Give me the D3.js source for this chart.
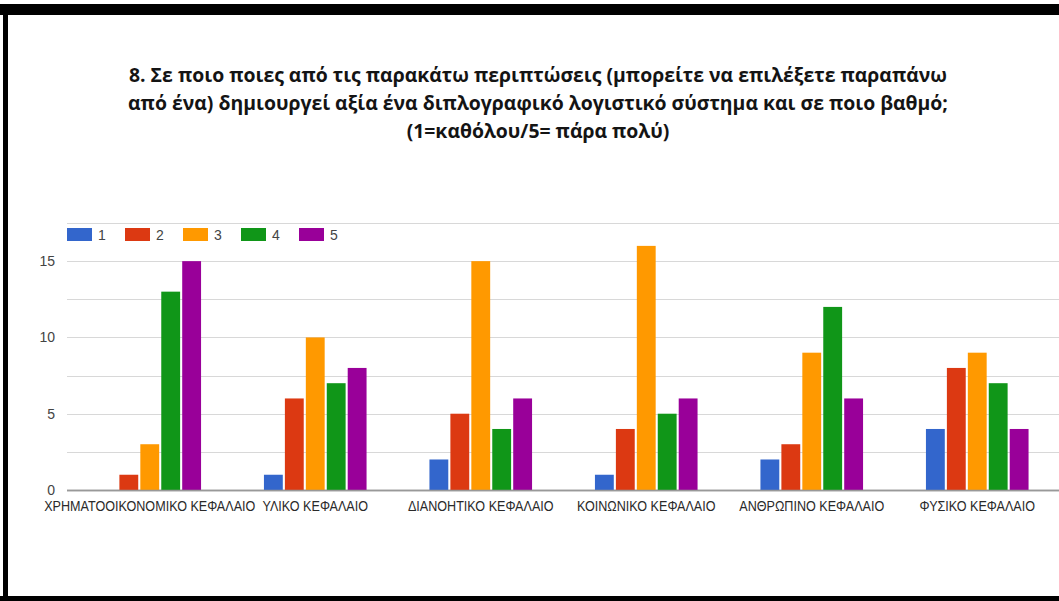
<!DOCTYPE html>
<html>
<head>
<meta charset="utf-8">
<script src="https://cdn.jsdelivr.net/npm/d3@7"></script>
<style>
  html, body { margin: 0; padding: 0; background: #fff; }
  svg { display: block; }
  .title { font-family: 'Open Sans', 'Noto Sans', sans-serif; font-weight: bold;
    font-size: 19.4px; fill: #141414; }
  .axis text, .legend text { font-family: 'Liberation Sans', Arial, sans-serif;
    font-size: 14px; }
</style>
</head>
<body>
<svg id="chart" width="1059" height="601"></svg>
<script>
/**
 * Chart data.
 */
var titleLines = [
  '8. Σε ποιο ποιες από τις παρακάτω περιπτώσεις (μπορείτε να επιλέξετε παραπάνω',
  'από ένα) δημιουργεί αξία ένα διπλογραφικό λογιστικό σύστημα και σε ποιο βαθμό;',
  '(1=καθόλου/5= πάρα πολύ)'
];
var categories = [
  'ΧΡΗΜΑΤΟΟΙΚΟΝΟΜΙΚΟ ΚΕΦΑΛΑΙΟ',
  'ΥΛΙΚΟ ΚΕΦΑΛΑΙΟ',
  'ΔΙΑΝΟΗΤΙΚΟ ΚΕΦΑΛΑΙΟ',
  'ΚΟΙΝΩΝΙΚΟ ΚΕΦΑΛΑΙΟ',
  'ΑΝΘΡΩΠΙΝΟ ΚΕΦΑΛΑΙΟ',
  'ΦΥΣΙΚΟ ΚΕΦΑΛΑΙΟ'
];
var seriesNames = ['1', '2', '3', '4', '5'];
var seriesColors = ['#3366cc', '#dc3912', '#ff9900', '#109618', '#990099'];
// values per series, one entry per category
var values1 = [0, 1, 2, 1, 2, 4];
var values2 = [1, 6, 5, 4, 3, 8];
var values3 = [3, 10, 15, 16, 9, 9];
var values4 = [13, 7, 4, 5, 12, 7];
var values5 = [15, 8, 6, 6, 6, 4];
var seriesValues = [values1, values2, values3, values4, values5];
var yLabelTicks = [0, 5, 10, 15];
var yGridTicks = [0, 2.5, 5, 7.5, 10, 12.5, 15, 17.5];
var yMax = 17.5;

var svg = d3.select('#chart');

// Black frame round the picture (top, left, bottom).
svg.append('rect').attr('x', 0).attr('y', 4).attr('width', 1059)
  .attr('height', 11).attr('fill', '#000');
svg.append('rect').attr('x', 3).attr('y', 4).attr('width', 5)
  .attr('height', 597).attr('fill', '#000');
svg.append('rect').attr('x', 0).attr('y', 596).attr('width', 1059)
  .attr('height', 5).attr('fill', '#000');

// Title, centered.
var title = svg.append('text')
  .classed('title', true)
  .attr('text-anchor', 'middle');
title.selectAll('tspan')
  .data(titleLines)
  .enter().append('tspan')
  .attr('x', 538)
  .attr('y', function(d, i) { return 82 + i * 28; })
  .text(function(d) { return d; });

var plotLeft = 67;
var plotRight = 1060;
var plotTop = 223;
var plotBottom = 490;

var x = d3.scaleBand()
  .domain(categories)
  .range([plotLeft, plotRight]);
var xInner = d3.scaleBand()
  .domain(seriesNames)
  .range([x.bandwidth() * 0.19, x.bandwidth() * 0.81])
  .paddingInner(0.1);
var y = d3.scaleLinear()
  .domain([0, yMax])
  .range([plotBottom, plotTop]);

// Gridlines.
svg.append('g')
  .selectAll('line')
  .data(yGridTicks)
  .enter().append('line')
  .attr('x1', plotLeft)
  .attr('x2', 1059)
  .attr('y1', function(d) { return Math.round(y(d)) + 0.5; })
  .attr('y2', function(d) { return Math.round(y(d)) + 0.5; })
  .attr('stroke', function(d) { return d == 0 ? '#999' : '#d8d8d8'; })
  .attr('stroke-width', function(d) { return d == 0 ? 1.5 : 1.2; });

// Bars.
var groups = svg.append('g')
  .selectAll('g')
  .data(categories)
  .enter().append('g')
  .attr('transform', function(d) { return 'translate(' + x(d) + ',0)'; });
groups.selectAll('rect')
  .data(function(d, ci) {
    return seriesNames.map(function(s, si) {
      return {series: s, color: seriesColors[si], value: seriesValues[si][ci]};
    });
  })
  .enter().append('rect')
  .attr('x', function(d) { return xInner(d.series); })
  .attr('width', xInner.bandwidth())
  .attr('y', function(d) { return y(d.value); })
  .attr('height', function(d) { return y(0) - y(d.value); })
  .attr('fill', function(d) { return d.color; });

// Re-draw baseline on top of bars.
svg.append('line')
  .attr('x1', plotLeft).attr('x2', 1059)
  .attr('y1', Math.round(y(0)) + 0.5).attr('y2', Math.round(y(0)) + 0.5)
  .attr('stroke', '#999').attr('stroke-width', 1.5);

// Y axis labels.
var yAxis = svg.append('g')
  .classed('axis', true)
  .attr('transform', 'translate(' + (plotLeft - 12) + ',0)')
  .call(d3.axisLeft(y).tickValues(yLabelTicks).tickSize(0)
    .tickFormat(d3.format('d')));
yAxis.select('.domain').remove();
yAxis.selectAll('text')
  .attr('fill', '#444')
  .attr('x', 0)
  .attr('dy', '0.32em');

// X axis labels, slightly condensed like the original.
var xAxis = svg.append('g')
  .classed('axis', true)
  .attr('transform', 'translate(0,' + (plotBottom + 8) + ')')
  .call(d3.axisBottom(x).tickSize(0));
xAxis.select('.domain').remove();
xAxis.selectAll('text')
  .attr('fill', '#2a2a2a')
  .attr('transform', 'scale(0.9,1)');

// Legend.
var legend = svg.append('g')
  .classed('legend', true)
  .attr('transform', 'translate(67,228)');
var legendItems = legend.selectAll('g')
  .data(seriesNames)
  .enter().append('g')
  .attr('transform', function(d, i) { return 'translate(' + i * 58 + ',0)'; });
legendItems.append('rect')
  .attr('width', 25)
  .attr('height', 13)
  .attr('fill', function(d, i) { return seriesColors[i]; });
legendItems.append('text')
  .attr('x', 31)
  .attr('y', 12)
  .attr('fill', '#444')
  .text(function(d) { return d; });
</script>
</body>
</html>
